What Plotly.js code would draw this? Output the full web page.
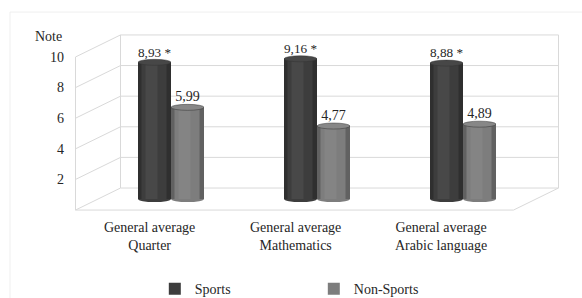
<!DOCTYPE html>
<html><head><meta charset="utf-8">
<script src="https://cdn.plot.ly/plotly-3.0.1.min.js"></script>
<style>html,body{margin:0;padding:0;background:#fff}</style>
</head><body><div id="chart" style="width:582px;height:298px"></div>
<script>
const categories = ["General average<br>Quarter", "General average<br>Mathematics", "General average<br>Arabic language"];
const sportsValues = [8.93, 9.16, 8.88];
const nonSportsValues = [5.99, 4.77, 4.89];
const seriesNames = ["Sports", "Non-Sports"];
const yTickValues = [2, 4, 6, 8, 10];
const yAxisLabel = "Note";

const FONT = "Liberation Serif";
const TXT = "#262626";
const GRID = "#d9d9d9";
const BARGAP = 0.548;
const DX = 22.5 / 438;   // depth offset in paper units
const DY = 0.72;         // depth offset in data units
const colors = ["#3d3d3d", "#7d7d7d"];
const capColors = ["#474747", "#878787"];

const xIdx = categories.map((c, i) => i);
const seriesVals = [sportsValues, nonSportsValues];

const traces = seriesVals.map((vals, k) => ({
  type: "bar", name: seriesNames[k], x: xIdx, y: vals,
  marker: {color: colors[k], line: {width: 0}},
  texttemplate: k === 0 ? "%{y:.2f} *" : "%{y:.2f}",
  textposition: "outside", cliponaxis: false,
  textfont: {family: FONT, size: 14, color: TXT},
  hoverinfo: "none"
}));

const shapes = [];
const line = (x0, y0, x1, y1) => ({type: "line", xref: "paper", yref: "y", x0, y0, x1, y1, layer: "below", line: {color: GRID, width: 1}});
// outer frame
shapes.push({type: "rect", xref: "paper", yref: "paper", x0: -0.2009, x1: 1.2, y0: -0.5, y1: 1.055, layer: "below", line: {color: "#efefef", width: 1}});
for (let v = 0; v <= 10; v += 2) {
  shapes.push(line(DX, v + DY, 1 + DX, v + DY));
  shapes.push(line(-DX, v - DY, DX, v + DY));
}
shapes.push(line(DX, DY, DX, 10 + DY));
shapes.push(line(1 + DX, DY, 1 + DX, 10 + DY));
shapes.push(line(-DX, -DY, -DX, 10 - DY));
shapes.push(line(-DX, -DY, 1 - DX, -DY));
shapes.push(line(1 - DX, -DY, 1 + DX, DY));

// cylinder shading and caps
const halfW = (1 - BARGAP) / 4;
const strip = (xa, v, a, b, col, op) => ({type: "rect", xref: "x", yref: "y", xsizemode: "pixel",
  xanchor: xa, x0: a, x1: b, y0: 0, y1: v, layer: "above", fillcolor: col, opacity: op, line: {width: 0}});
seriesVals.forEach((vals, k) => {
  const off = (k === 0 ? -1 : 1) * halfW;
  vals.forEach((v, i) => {
    const xa = i + off;
    shapes.push({type: "circle", xref: "x", yref: "y", xsizemode: "pixel", ysizemode: "pixel",
      xanchor: xa, yanchor: 0, x0: -16.5, x1: 16.5, y0: -3, y1: 3, layer: "below",
      fillcolor: colors[k], line: {width: 0}});
    shapes.push(strip(xa, v, -16.5, -13, "#000", 0.22));
    shapes.push(strip(xa, v, 12, 16.5, "#000", 0.22));
    shapes.push(strip(xa, v, -9, 3, "#fff", 0.06));
    shapes.push({type: "circle", xref: "x", yref: "y", xsizemode: "pixel", ysizemode: "pixel",
      xanchor: xa, yanchor: v, x0: -16.5, x1: 16.5, y0: -3, y1: 3, layer: "above",
      fillcolor: capColors[k], line: {width: 0.5, color: "#333333"}});
  });
});

const annotations = categories.map((c, i) => ({
  text: c, xref: "x", yref: "y", x: i, y: -DY, xshift: -22, yshift: -8,
  xanchor: "center", yanchor: "top", showarrow: false, align: "center",
  font: {family: FONT, size: 14, color: TXT}
}));
annotations.push({text: yAxisLabel, xref: "paper", yref: "y", x: 0, y: 10 + DY, xshift: -34, yshift: -2,
  xanchor: "right", yanchor: "middle", showarrow: false, font: {family: FONT, size: 14, color: TXT}});

const layout = {
  width: 582, height: 298,
  margin: {l: 98, r: 46, t: 23, b: 76},
  paper_bgcolor: "#fff", plot_bgcolor: "rgba(0,0,0,0)",
  separators: ", ",
  barmode: "group", bargap: BARGAP, bargroupgap: 0,
  font: {family: FONT, size: 14, color: TXT},
  xaxis: {range: [-0.5, 2.5], showticklabels: false, showgrid: false, zeroline: false, showline: false, ticks: "", fixedrange: true},
  yaxis: {range: [-1.5, 11.5], tickvals: yTickValues, showgrid: false, zeroline: false, showline: false, ticks: "",
    ticklabelshift: 11, ticklabelstandoff: 33, tickfont: {family: FONT, size: 14, color: TXT}},
  showlegend: true,
  legend: {orientation: "h", xref: "container", yref: "container", x: 0.266, y: 0.03, xanchor: "left", yanchor: "middle",
    entrywidth: 114, font: {family: FONT, size: 14, color: TXT}, bgcolor: "rgba(0,0,0,0)"},
  shapes, annotations
};
Plotly.newPlot("chart", traces, layout, {staticPlot: true, displayModeBar: false});
</script></body></html>
